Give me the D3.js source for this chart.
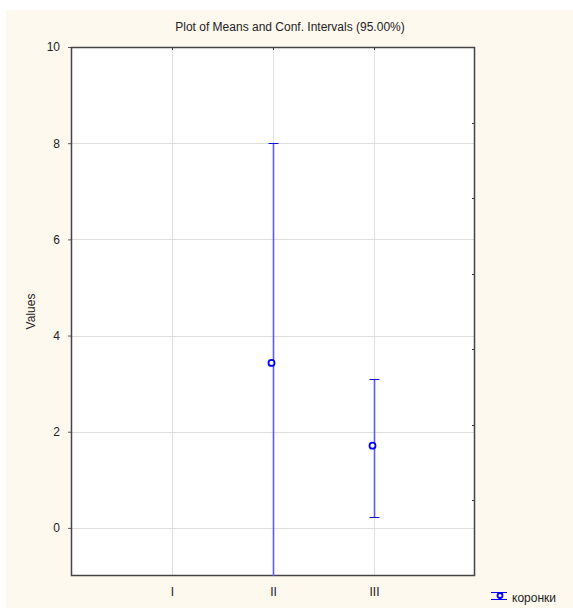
<!DOCTYPE html>
<html>
<head>
<meta charset="utf-8">
<script src="https://cdn.jsdelivr.net/npm/d3@7"></script>
<style>
  body { margin: 0; background: #fff; }
  text { font-family: "Liberation Sans", Arial, sans-serif; fill: #222; }
</style>
</head>
<body>
<div id="chart"></div>
<script>
// groups and values
const groups = ["I", "II", "III"];
const means = [null, 3.43, 1.71];
const lower = [null, -1.14, 0.22];
const upper = [null, 8.0, 3.09];
const yTicks = [0, 2, 4, 6, 8, 10];
const seriesName = "коронки";

const W = 573, H = 608;
const margin = { top: 47, right: 98, bottom: 32, left: 71 };

const svg = d3.select("#chart")
  .append("svg")
  .attr("width", W)
  .attr("height", H);

// cream panel
svg.append("rect")
  .attr("x", 6).attr("y", 10)
  .attr("width", W - 6).attr("height", H - 10)
  .attr("fill", "#fef9ef");

const x0 = margin.left, x1 = W - margin.right;
const y0 = H - margin.bottom, y1 = margin.top;

const x = d3.scalePoint().domain(groups).range([x0, x1]).padding(1);
const y = d3.scaleLinear().domain([-1, 10]).range([y0, y1]);

svg.append("rect")
  .attr("x", x0).attr("y", y1)
  .attr("width", x1 - x0).attr("height", y0 - y1)
  .attr("fill", "#fff");

// grid
svg.append("g")
  .selectAll("line")
  .data(yTicks)
  .enter().append("line")
  .attr("x1", x0).attr("x2", x1)
  .attr("y1", d => Math.round(y(d)) + 0.5)
  .attr("y2", d => Math.round(y(d)) + 0.5)
  .attr("stroke", "#dedede");

svg.append("g")
  .selectAll("line")
  .data(groups)
  .enter().append("line")
  .attr("x1", d => Math.round(x(d)) + 0.5)
  .attr("x2", d => Math.round(x(d)) + 0.5)
  .attr("y1", y1).attr("y2", y0)
  .attr("stroke", "#dedede");

// axes
svg.append("g")
  .attr("transform", `translate(${x0},0)`)
  .call(d3.axisLeft(y).tickValues(yTicks).tickSize(3).tickPadding(8))
  .call(g => g.select(".domain").remove())
  .call(g => g.selectAll("line").attr("stroke", "#555"))
  .call(g => g.selectAll("text").attr("font-size", 12).attr("fill", "#222"));

svg.append("g")
  .attr("transform", `translate(0,${y0})`)
  .call(d3.axisBottom(x).tickSize(0).tickPadding(11))
  .call(g => g.select(".domain").remove())
  .call(g => g.selectAll("text").attr("font-size", 12).attr("fill", "#222"));

// top ticks at groups, right minor ticks
svg.append("g")
  .selectAll("line")
  .data(groups)
  .enter().append("line")
  .attr("x1", d => Math.round(x(d)) + 0.5)
  .attr("x2", d => Math.round(x(d)) + 0.5)
  .attr("y1", y1).attr("y2", y1 + 3)
  .attr("stroke", "#333");

const rightTicks = d3.range(1, 7).map(k => -1 + k * 11 / 7);
svg.append("g")
  .selectAll("line")
  .data(rightTicks)
  .enter().append("line")
  .attr("x1", x1 - 3).attr("x2", x1)
  .attr("y1", d => Math.round(y(d)) + 0.5)
  .attr("y2", d => Math.round(y(d)) + 0.5)
  .attr("stroke", "#333");

// frame
svg.append("rect")
  .attr("x", x0 + 0.5).attr("y", y1 + 0.5)
  .attr("width", x1 - x0 - 1).attr("height", y0 - y1 - 1)
  .attr("fill", "none")
  .attr("stroke", "#444")
  .attr("stroke-width", 1.5);

// error bars
svg.append("clipPath").attr("id", "plot")
  .append("rect")
  .attr("x", x0).attr("y", y1)
  .attr("width", x1 - x0).attr("height", y0 - y1);

const data = groups.map((g, i) => ({ g, m: means[i], lo: lower[i], hi: upper[i] }))
  .filter(d => d.m !== null);

const bars = svg.append("g").attr("clip-path", "url(#plot)");

bars.selectAll(".whisker")
  .data(data)
  .enter().append("line")
  .attr("class", "whisker")
  .attr("x1", d => x(d.g) + 0.5).attr("x2", d => x(d.g) + 0.5)
  .attr("y1", d => y(d.lo)).attr("y2", d => y(d.hi))
  .attr("stroke", "#5a5aff")
  .attr("stroke-width", 1.6);

const caps = [];
data.forEach(d => {
  if (d.lo >= -1) caps.push({ g: d.g, v: d.lo });
  if (d.hi <= 10) caps.push({ g: d.g, v: d.hi });
});

bars.selectAll(".cap")
  .data(caps)
  .enter().append("line")
  .attr("class", "cap")
  .attr("x1", d => x(d.g) - 4.5).attr("x2", d => x(d.g) + 5.5)
  .attr("y1", d => Math.round(y(d.v)) + 0.5)
  .attr("y2", d => Math.round(y(d.v)) + 0.5)
  .attr("stroke", "#1010d0")
  .attr("stroke-width", 1);

bars.selectAll(".mean")
  .data(data)
  .enter().append("circle")
  .attr("class", "mean")
  .attr("cx", d => x(d.g) - 1.5)
  .attr("cy", d => y(d.m))
  .attr("r", 3)
  .attr("fill", "#fff")
  .attr("stroke", "#0000ff")
  .attr("stroke-width", 1.8);

// title
svg.append("text")
  .attr("x", 290).attr("y", 31)
  .attr("text-anchor", "middle")
  .attr("font-size", 12)
  .text("Plot of Means and Conf. Intervals (95.00%)");

svg.append("text")
  .attr("transform", `translate(35,${(y0 + y1) / 2}) rotate(-90)`)
  .attr("text-anchor", "middle")
  .attr("font-size", 12)
  .text("Values");

// legend
const lg = svg.append("g").attr("transform", "translate(491,592)");
lg.append("line").attr("x1", 0).attr("x2", 16).attr("y1", 0.5).attr("y2", 0.5)
  .attr("stroke", "#0000ff");
lg.append("line").attr("x1", 9).attr("x2", 9).attr("y1", 0).attr("y2", 7)
  .attr("stroke", "#5a5aff").attr("stroke-width", 1.5);
lg.append("circle").attr("cx", 9).attr("cy", 3.5).attr("r", 2.5)
  .attr("fill", "#fff").attr("stroke", "#0000ff").attr("stroke-width", 1.8);
lg.append("line").attr("x1", 0).attr("x2", 16).attr("y1", 7.5).attr("y2", 7.5)
  .attr("stroke", "#0000ff");
lg.append("text").attr("x", 21).attr("y", 10)
  .attr("font-size", 12)
  .text(seriesName);
</script>
</body>
</html>
